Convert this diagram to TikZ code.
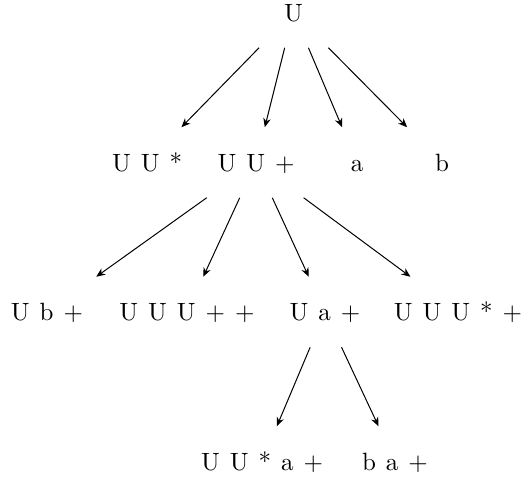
\documentclass[tikz,border=0pt]{standalone}
\usetikzlibrary{arrows.meta}
\begin{document}
\begin{tikzpicture}[x=0.4pt,y=-0.4pt,
  tn/.style={inner xsep=30pt, inner ysep=10.4pt, text height=7pt, text depth=0pt, font={\spaceskip=4pt\relax}},
  arr/.style={-{Stealth[length=3.6pt,width=3pt]}, line width=0.4pt}]
\useasboundingbox (0,0) rectangle (530,484);
% level 0
\node[tn] (r) at (293.5,12.5) {U};
% level 1
\node[tn] (a1) at (147,162.5) {U U *};
\node[tn] (a2) at (256,162.5) {U U +};
\node[tn] (a3) at (357,162.5) {a};
\node[tn] (a4) at (442,162.5) {b};
% level 2
\node[tn] (b1) at (47,312) {U b +};
\node[tn] (b2) at (187,312) {U U U + +};
\node[tn] (b3) at (325,312) {U a +};
\node[tn] (b4) at (458,312) {U U U * +};
% level 3
\node[tn] (c1) at (262,461.5) {U U * a +};
\node[tn] (c2) at (395,461.5) {b a +};
% edges
\foreach \t in {a1,a2,a3,a4} \draw[arr] (r) -- (\t);
\foreach \t in {b1,b2,b3,b4} \draw[arr] (a2) -- (\t);
\foreach \t in {c1,c2} \draw[arr] (b3) -- (\t);
\end{tikzpicture}
\end{document}
